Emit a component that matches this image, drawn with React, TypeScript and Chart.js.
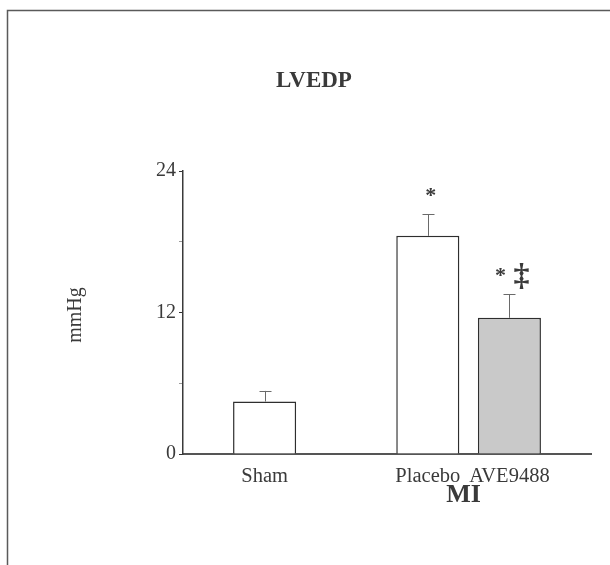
import React, { useEffect, useRef } from "react";
import { Chart, registerables } from "chart.js";

Chart.register(...registerables);

const categories = ["", "Sham", "", "Placebo", "AVE9488", ""];
const means = [null, 4.45, null, 18.5, 11.55, null];
const errors = [null, 0.9, null, 1.85, 2.0, null];
const marks = ["", "", "", "*", "*", ""];
const daggers = ["", "", "", "", "‡", ""];
const barFills = ["#ffffff", "#ffffff", "#ffffff", "#ffffff", "#c9c9c9", "#ffffff"];
const yTicks = [0, 12, 24];

const SERIF = "'Liberation Serif', 'DejaVu Serif', serif";

const decor = {
  id: "decor",
  beforeDraw(chart: any) {
    const ctx = chart.ctx;
    ctx.save();
    ctx.strokeStyle = "#5a5a5a";
    ctx.lineWidth = 1.5;
    ctx.beginPath();
    ctx.moveTo(7.5, 600);
    ctx.lineTo(7.5, 10.5);
    ctx.lineTo(620, 10.5);
    ctx.stroke();
    ctx.restore();
  },
  afterDatasetsDraw(chart: any) {
    const ctx = chart.ctx;
    const y = chart.scales.y;
    const x = chart.scales.x;
    const meta = chart.getDatasetMeta(0);
    ctx.save();
    // error bars
    ctx.strokeStyle = "#6a6a6a";
    ctx.lineWidth = 1;
    meta.data.forEach((bar: any, i: number) => {
      const m = means[i];
      const e = errors[i];
      if (m == null || e == null) return;
      const bx = Math.round(bar.x) + 0.5;
      const top = y.getPixelForValue(m + e);
      const base = y.getPixelForValue(m);
      ctx.beginPath();
      ctx.moveTo(bx, base);
      ctx.lineTo(bx, top);
      ctx.moveTo(bx - 6, Math.round(top) + 0.5);
      ctx.lineTo(bx + 6, Math.round(top) + 0.5);
      ctx.stroke();
    });
    // significance marks
    ctx.fillStyle = "#3a3a3a";
    ctx.textAlign = "center";
    ctx.textBaseline = "middle";
    meta.data.forEach((bar: any, i: number) => {
      const m = means[i];
      const e = errors[i];
      if (m == null || e == null) return;
      const top = y.getPixelForValue(m + e);
      if (marks[i]) {
        ctx.font = `bold 22px ${SERIF}`;
        const dx = daggers[i] ? -9 : 3;
        ctx.fillText(marks[i], bar.x + dx, top - 18);
      }
      if (daggers[i]) {
        ctx.font = `bold 32px ${SERIF}`;
        ctx.fillText(daggers[i], bar.x + 12, top - 17);
      }
    });
    // title
    ctx.font = `bold 23px ${SERIF}`;
    ctx.fillStyle = "#3a3a3a";
    ctx.textAlign = "center";
    ctx.fillText("LVEDP", 314, 81);
    // group label
    const cx = (x.getPixelForValue(3) + x.getPixelForValue(4)) / 2;
    ctx.font = `bold 26px ${SERIF}`;
    ctx.fillText("MI", cx - 5, 495);
    // y title
    ctx.font = `20px ${SERIF}`;
    ctx.translate(76, 315);
    ctx.rotate(-Math.PI / 2);
    ctx.fillText("mmHg", 0, 0);
    ctx.restore();
  },
};

export default function App() {
  const ref = useRef<HTMLCanvasElement>(null);
  useEffect(() => {
    if (!ref.current) return;
    const chart = new Chart(ref.current, {
      type: "bar",
      data: {
        labels: categories,
        datasets: [
          {
            data: means as any,
            backgroundColor: barFills,
            borderColor: "#2e2e2e",
            borderWidth: 1.5,
            borderSkipped: "bottom",
            categoryPercentage: 1,
            barPercentage: 0.773,
          },
        ],
      },
      options: {
        responsive: false,
        animation: false,
        layout: { padding: { top: 171, right: 19, left: 0, bottom: 0 } },
        plugins: { legend: { display: false }, tooltip: { enabled: false }, title: { display: false } },
        scales: {
          x: {
            offset: false,
            grid: { display: true, drawOnChartArea: false, drawTicks: false, color: "transparent" },
            border: { display: true, color: "#555555", width: 2 },
            ticks: {
              color: "#3a3a3a",
              font: { family: SERIF, size: 20.5 },
              padding: 10,
              maxRotation: 0,
              autoSkip: false,
            },
            afterFit(scale: any) {
              scale.height = 111;
            },
          },
          y: {
            min: 0,
            max: 24,
            grid: {
              drawOnChartArea: false,
              drawTicks: true,
              tickLength: 4,
              tickColor: (c: any) => (yTicks.includes(c.tick?.value) ? "#333333" : "#9a9a9a"),
              tickWidth: 1,
            },
            border: { display: true, color: "#3a3a3a", width: 1.5 },
            ticks: {
              stepSize: 6,
              color: "#3a3a3a",
              font: { family: SERIF, size: 20 },
              padding: 3,
              callback: (v: any) => (yTicks.includes(Number(v)) ? String(v) : ""),
            },
            afterFit(scale: any) {
              scale.width = 183;
            },
          },
        },
      },
      plugins: [decor],
    });
    return () => chart.destroy();
  }, []);
  return (
    <div style={{ position: "absolute", left: 0, top: 0, width: 610, height: 565, background: "#fff" }}>
      <canvas ref={ref} width={610} height={565} />
    </div>
  );
}
